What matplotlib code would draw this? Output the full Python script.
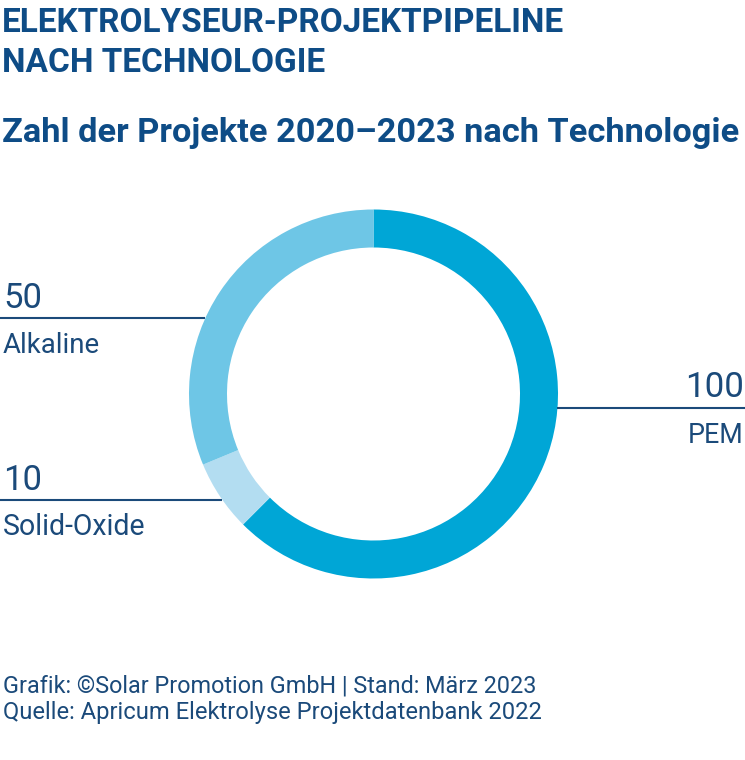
import matplotlib
matplotlib.use("Agg")
import matplotlib.pyplot as plt
import numpy as np

# ---- data ----
technologies = ["PEM", "Solid-Oxide", "Alkaline"]
projects = [100, 10, 50]
colors = ["#00A6D6", "#B3DDF1", "#6EC6E6"]

title_lines = ["ELEKTROLYSEUR-PROJEKTPIPELINE", "NACH TECHNOLOGIE"]
subtitle = "Zahl der Projekte 2020\u20132023 nach Technologie"
footer_lines = ["Grafik: \u00a9Solar Promotion GmbH | Stand: M\u00e4rz 2023",
                "Quelle: Apricum Elektrolyse Projektdatenbank 2022"]

W, H = 745, 760
TITLE_C = "#0E4C86"
TEXT_C = "#1B4A7A"
FONT = "Roboto"

fig = plt.figure(figsize=(W / 100, H / 100), dpi=100)

# donut geometry (pixels)
cx, cy, R = 373.5, 394.0, 184.5
ring_w = 38.0

ax = fig.add_axes([(cx - R) / W, (H - cy - R) / H, 2 * R / W, 2 * R / H])
ax.pie(projects, colors=colors, startangle=90, counterclock=False, radius=1,
       wedgeprops=dict(width=ring_w / R, edgecolor="none", linewidth=0))
ax.set_xlim(-1, 1)
ax.set_ylim(-1, 1)
ax.set_aspect("equal")
ax.axis("off")

# overlay in pixel coords (origin top-left)
ov = fig.add_axes([0, 0, 1, 1], zorder=5)
ov.set_xlim(0, W)
ov.set_ylim(H, 0)
ov.axis("off")
ov.patch.set_alpha(0)

renderer = fig.canvas.get_renderer()


def fit_text(x, y, s, width, size, weight="normal", color=TEXT_C, ha="left"):
    t = ov.text(x, y, s, ha=ha, va="baseline", fontsize=size, fontweight=weight,
                color=color, family=FONT)
    bb = t.get_window_extent(renderer)
    t.set_fontsize(size * width / bb.width)
    return t


# titles
fit_text(2, 32, title_lines[0], 563, 24, "bold", TITLE_C)
fit_text(2, 72, title_lines[1], 323, 24, "bold", TITLE_C)
fit_text(2, 142, subtitle, 738, 24, "bold", TITLE_C)

# leader lines: y level -> intersection with outer ring
line_y = {"Alkaline": 318, "Solid-Oxide": 500, "PEM": 408}
for name, side in [("Alkaline", "left"), ("Solid-Oxide", "left"), ("PEM", "right")]:
    y = line_y[name]
    dx = np.sqrt(R ** 2 - (y - cy) ** 2)
    if side == "left":
        ov.plot([0, cx - dx], [y, y], color=TEXT_C, lw=1.5, solid_capstyle="butt")
    else:
        ov.plot([cx + dx, W], [y, y], color=TEXT_C, lw=1.5, solid_capstyle="butt")

vals = dict(zip(technologies, projects))
fit_text(3, 308, str(vals["Alkaline"]), 39, 22)
fit_text(3, 353, "Alkaline", 97, 17)
fit_text(3, 490, str(vals["Solid-Oxide"]), 39, 22)
fit_text(3, 535, "Solid-Oxide", 143, 17)
fit_text(744, 397, str(vals["PEM"]), 59, 22, ha="right")
fit_text(744, 443, "PEM", 56, 17, ha="right")

# footer
fit_text(3, 692, footer_lines[0], 534, 15)
fit_text(3, 719, footer_lines[1], 540, 15)

fig.savefig("out.png", dpi=100, facecolor="white")
